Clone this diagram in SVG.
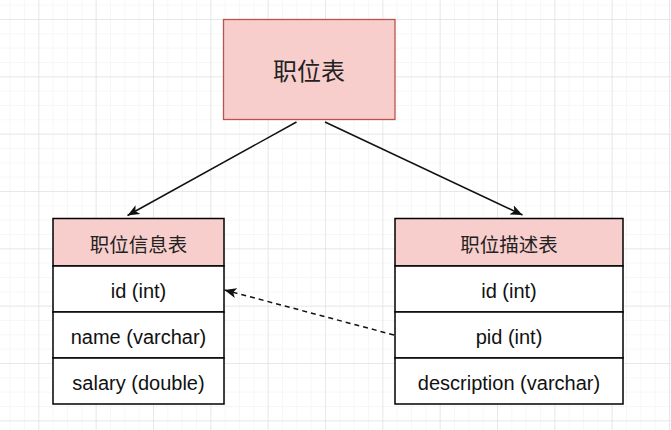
<svg xmlns="http://www.w3.org/2000/svg" width="671" height="430" viewBox="0 0 671 430">
  <defs>
    <pattern id="minor" x="9.67" y="4.67" width="14.333" height="14.333" patternUnits="userSpaceOnUse">
      <path d="M0,0 H14.333 M0,0 V14.333" fill="none" stroke="#efefef" stroke-width="1"/>
    </pattern>
    <pattern id="major" x="38.33" y="19" width="57.333" height="57.333" patternUnits="userSpaceOnUse">
      <path d="M0,0 H57.333 M0,0 V57.333" fill="none" stroke="#dadada" stroke-width="1"/>
    </pattern>
    <marker id="arrow" viewBox="0 0 12 10" refX="12" refY="5" markerWidth="12" markerHeight="10" markerUnits="userSpaceOnUse" orient="auto">
      <path d="M0,0 L12,5 L0,10 L3,5 z" fill="#111"/>
    </marker>
  </defs>
  <style>
    .cjk { font-family: "Noto Sans CJK SC", "Noto Sans", sans-serif; fill: #222; text-anchor: middle; dominant-baseline: central; }
    .row { font-family: "Liberation Sans", Arial, sans-serif; font-size: 20px; fill: #111; text-anchor: middle; dominant-baseline: central; }
    .hdr { fill: #f8cecc; stroke: #000; stroke-width: 1.5; }
    .cell { fill: #ffffff; stroke: #000; stroke-width: 1.5; }
    .edge { fill: none; stroke: #111; stroke-width: 1.5; }
  </style>
  <rect width="671" height="430" fill="#ffffff"/>
  <rect width="671" height="430" fill="url(#minor)"/>
  <rect width="671" height="430" fill="url(#major)"/>

  <g id="node-position">
    <rect x="223.5" y="19.5" width="171.5" height="100" fill="#f8cecc" stroke="#b85450" stroke-width="1.3"/>
    <text class="cjk" x="309" y="69" font-size="24">职位表</text>
  </g>

  <g id="node-position-info">
    <rect class="hdr" x="53" y="218.5" width="171" height="47.5"/>
    <text class="cjk" x="138.5" y="243.5" font-size="19.5">职位信息表</text>
    <rect class="cell" x="53" y="266" width="171" height="46"/>
    <text class="row" x="138.5" y="290.5">id (int)</text>
    <rect class="cell" x="53" y="312" width="171" height="46"/>
    <text class="row" x="138.5" y="336.5">name (varchar)</text>
    <rect class="cell" x="53" y="358" width="171" height="46"/>
    <text class="row" x="138.5" y="382.5">salary (double)</text>
  </g>

  <g id="node-position-desc">
    <rect class="hdr" x="395" y="218.5" width="228" height="47.5"/>
    <text class="cjk" x="509" y="243.5" font-size="19.5">职位描述表</text>
    <rect class="cell" x="395" y="266" width="228" height="46"/>
    <text class="row" x="509" y="290.5">id (int)</text>
    <rect class="cell" x="395" y="312" width="228" height="46"/>
    <text class="row" x="509" y="336.5">pid (int)</text>
    <rect class="cell" x="395" y="358" width="228" height="46"/>
    <text class="row" x="509" y="382.5">description (varchar)</text>
  </g>

  <g id="connectors">
    <line class="edge" x1="296.5" y1="122" x2="127.5" y2="215.5" marker-end="url(#arrow)"/>
    <line class="edge" x1="325" y1="122" x2="522.5" y2="215" marker-end="url(#arrow)"/>
    <line class="edge" x1="394" y1="335" x2="224.5" y2="290" stroke-dasharray="5 4" marker-end="url(#arrow)"/>
  </g>
</svg>
